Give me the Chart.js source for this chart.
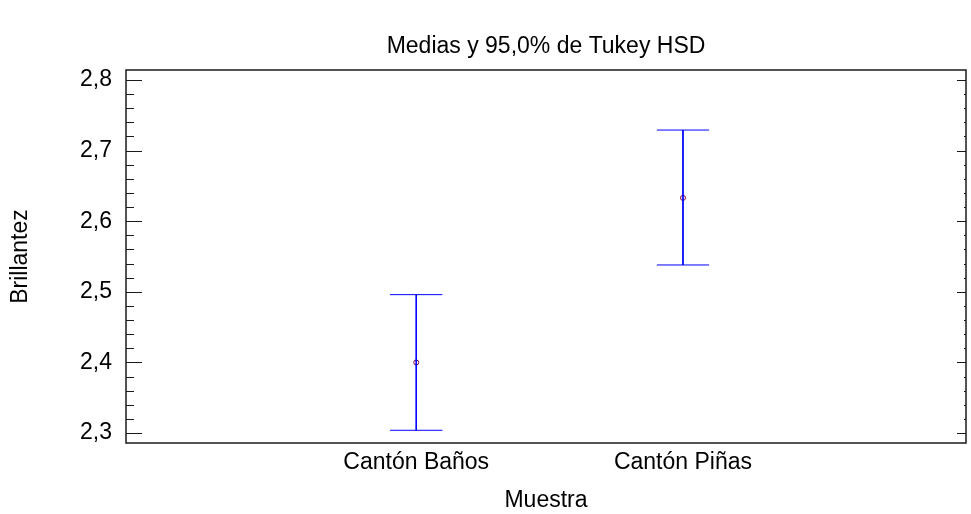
<!DOCTYPE html>
<html>
<head>
<meta charset="utf-8">
<style>
  html, body { margin: 0; padding: 0; background: #fff; }
  #wrap { width: 971px; height: 514px; }
</style>
<script src="https://cdn.jsdelivr.net/npm/chart.js@4.4.1/dist/chart.umd.min.js"></script>
</head>
<body>
<div id="wrap"><canvas id="chart" width="971" height="514"></canvas></div>
<script>
const categories = ['Cantón Baños', 'Cantón Piñas'];
const means = [2.400, 2.633];
const lower = [2.304, 2.538];
const upper = [2.496, 2.729];
const yTicks = [2.3, 2.4, 2.5, 2.6, 2.7, 2.8];

const capHalf = 0.098; // half width of the interval caps, in x units
const font = "'Liberation Sans', Arial, sans-serif";
const fs = 23;

// build interval segments (a point with y null breaks the line)
let bars = [];
categories.forEach((c, i) => {
  let x = i + 1;
  bars.push({ x: x - capHalf, y: upper[i] }, { x: x + capHalf, y: upper[i] }, { x: x, y: null });
  bars.push({ x: x, y: upper[i] }, { x: x, y: lower[i] }, { x: x, y: null });
  bars.push({ x: x - capHalf, y: lower[i] }, { x: x + capHalf, y: lower[i] }, { x: x, y: null });
});
let meanPts = means.map((m, i) => ({ x: i + 1, y: m }));

// frame and inward ticks
const framePlugin = {
  id: 'frame',
  afterDraw(chart) {
    const { ctx, chartArea: a, scales } = chart;
    const y = scales.y;
    ctx.save();
    ctx.strokeStyle = '#1a1a1a';
    ctx.lineWidth = 1.5;
    ctx.strokeRect(a.left, a.top, a.right - a.left, a.bottom - a.top);
    ctx.lineWidth = 1.2;
    ctx.beginPath();
    for (let k = 0; k <= 25; k++) {
      let v = 2.3 + k * 0.02;
      let p = Math.round(y.getPixelForValue(v)) + 0.5;
      let major = k % 5 === 0;
      ctx.moveTo(a.left, p);
      ctx.lineTo(a.left + (major ? 16 : 8), p);
      ctx.moveTo(a.right, p);
      ctx.lineTo(a.right - (major ? 9 : 2), p);
    }
    ctx.stroke();
    ctx.restore();
  }
};

new Chart(document.getElementById('chart'), {
  type: 'scatter',
  data: {
    datasets: [{
      data: bars,
      xAxisID: 'x',
      yAxisID: 'y',
      showLine: true,
      spanGaps: false,
      borderColor: '#0000ff',
      borderWidth: 1,
      pointRadius: 0
    }, {
      data: meanPts,
      xAxisID: 'x',
      yAxisID: 'y',
      showLine: false,
      pointRadius: 2.5,
      pointBorderWidth: 1,
      pointBorderColor: '#800040',
      pointBackgroundColor: '#ffffff'
    }]
  },
  plugins: [framePlugin],
  options: {
    responsive: false,
    animation: false,
    layout: { padding: { left: 0, right: 1, top: 0, bottom: 0 } },
    plugins: {
      legend: { display: false },
      tooltip: { enabled: false }
    },
    scales: {
      x: {
        type: 'linear',
        min: -0.088,
        max: 3.061,
        afterBuildTicks: s => { s.ticks = categories.map((c, i) => ({ value: i + 1 })); },
        afterFit: s => { s.height = 71; },
        grid: { display: false, drawTicks: false },
        border: { display: false },
        ticks: {
          color: '#000',
          padding: 6,
          font: { family: font, size: fs },
          callback: v => categories[v - 1]
        },
        title: {
          display: true,
          text: 'Muestra',
          color: '#000',
          font: { family: font, size: fs },
          padding: { top: 0, bottom: 0 }
        }
      },
      // top axis only carries the chart title, centred over the plot
      top: {
        type: 'linear',
        axis: 'x',
        position: 'top',
        min: 0,
        max: 1,
        afterFit: s => { s.height = 70; },
        grid: { display: false, drawTicks: false },
        border: { display: false },
        ticks: { display: false },
        title: {
          display: true,
          text: 'Medias y 95,0% de Tukey HSD',
          color: '#000',
          font: { family: font, size: fs },
          padding: { top: 33, bottom: 0 }
        }
      },
      y: {
        min: 2.286,
        max: 2.814,
        afterBuildTicks: s => { s.ticks = yTicks.map(v => ({ value: v })); },
        afterFit: s => { s.width = 126; },
        grid: { display: false, drawTicks: false },
        border: { display: false },
        ticks: {
          color: '#000',
          padding: 14,
          font: { family: font, size: fs },
          callback: v => v.toFixed(1).replace('.', ',')
        },
        title: {
          display: true,
          text: 'Brillantez',
          color: '#000',
          font: { family: font, size: fs },
          padding: { top: 7 }
        }
      }
    }
  }
});
</script>
</body>
</html>
